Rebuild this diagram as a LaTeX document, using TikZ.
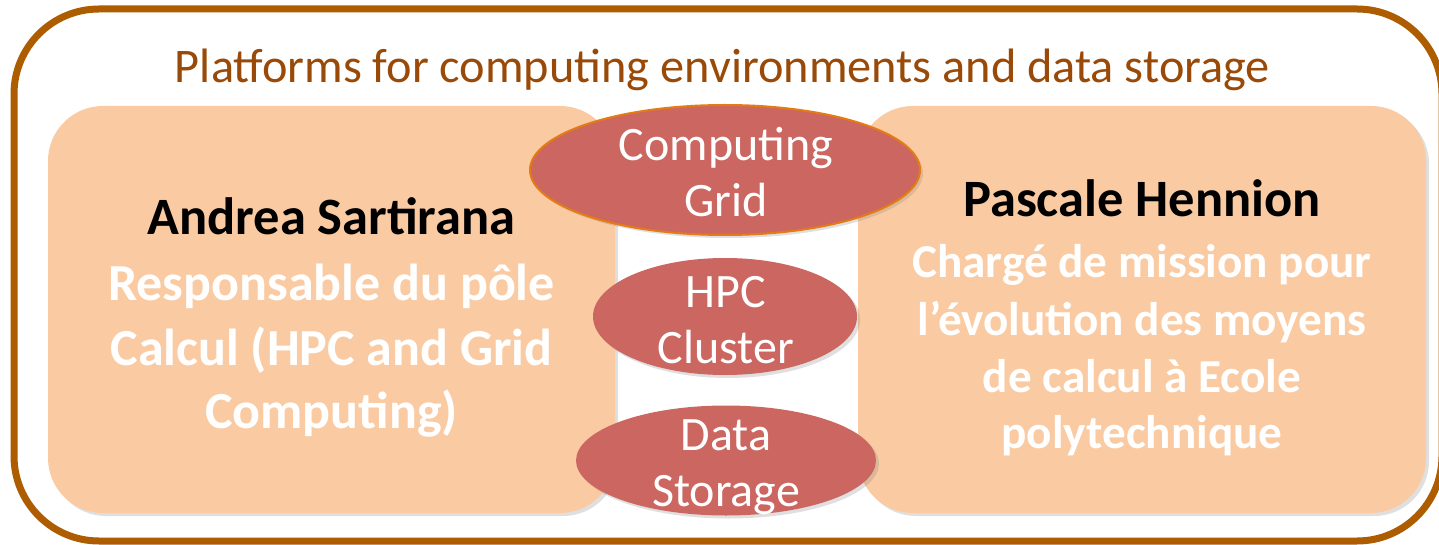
\documentclass[tikz,border=0pt]{standalone}
\usepackage{fontspec}
\setmainfont{Carlito}
\usetikzlibrary{shapes.geometric,shadows}
\definecolor{framebrown}{HTML}{AD5C00}
\definecolor{titlebrown}{HTML}{9A4A08}
\definecolor{peach}{HTML}{FACBA2}
\definecolor{rosered}{HTML}{CC6660}
\definecolor{rimorange}{HTML}{E57B14}
\tikzset{
  outerframe/.style={draw=framebrown, line width=7pt, rounded corners=85pt,
    drop shadow={shadow xshift=2pt, shadow yshift=-3pt, opacity=0.2}},
  panel/.style={fill=peach, draw=none, rounded corners=55pt, inner sep=0pt,
    drop shadow={shadow xshift=3pt, shadow yshift=-3pt, opacity=0.25}},
  bubble/.style={ellipse, fill=rosered, inner sep=0pt,
    drop shadow={shadow xshift=3pt, shadow yshift=-3pt, opacity=0.25}},
  titletext/.style={anchor=base, inner sep=0pt, text=titlebrown, font=\fontsize{48.3}{58}\selectfont},
  nametext/.style={anchor=base, inner sep=0pt, text=black, font=\fontsize{52.5}{62}\selectfont\bfseries},
  lroletext/.style={anchor=base, inner sep=0pt, text=white, font=\fontsize{52}{62}\selectfont\bfseries},
  rroletext/.style={anchor=base, inner sep=0pt, text=white, font=\fontsize{47.2}{57}\selectfont\bfseries},
  bubbletext/.style={anchor=base, inner sep=0pt, text=white, font=\fontsize{48}{58}\selectfont},
}
\begin{document}
\begin{tikzpicture}[x=1pt,y=-1pt]
\useasboundingbox (0,0) rectangle (1439,545);
% outer frame
\draw[outerframe, fill=white] (14,9) rectangle (1442,541);
\node[titletext] (title) at (722.5,83) {Platforms for computing environments and data storage};
% panels
\node[panel, minimum width=567pt, minimum height=407pt] (left) at (331.5,309.5) {};
\node[panel, minimum width=568pt, minimum height=407pt] (right) at (1142,309.5) {};
% left text
\node[nametext] (lname) at (331.5,235) {Andrea Sartirana};
\node[lroletext] (l1) at (331.5,300) {Responsable du pôle};
\node[lroletext] (l2) at (331.5,365) {Calcul (HPC and Grid};
\node[lroletext] (l3) at (331.5,428) {Computing)};
% right text
\node[nametext] (rname) at (1142,217) {Pascale Hennion};
\node[rroletext] (r1) at (1142,277) {Chargé de mission pour};
\node[rroletext] (r2) at (1142,335) {l’évolution des moyens};
\node[rroletext] (r3) at (1142,392) {de calcul à Ecole};
\node[rroletext] (r4) at (1142,448) {polytechnique};
% bubbles
\node[bubble, draw=rimorange, line width=2pt, minimum width=390pt, minimum height=130pt] (grid) at (725,170) {};
\node[bubble, minimum width=264pt, minimum height=117pt] (hpc) at (725,316.5) {};
\node[bubble, minimum width=300pt, minimum height=110pt] (data) at (726,460.5) {};
\node[bubbletext] (g1) at (726,161) {Computing};
\node[bubbletext] (g2) at (726,217) {Grid};
\node[bubbletext] (h1) at (726,307) {HPC};
\node[bubbletext] (h2) at (726,363) {Cluster};
\node[bubbletext] (d1) at (726,450) {Data};
\node[bubbletext] (d2) at (726,506) {Storage};
\end{tikzpicture}
\end{document}
